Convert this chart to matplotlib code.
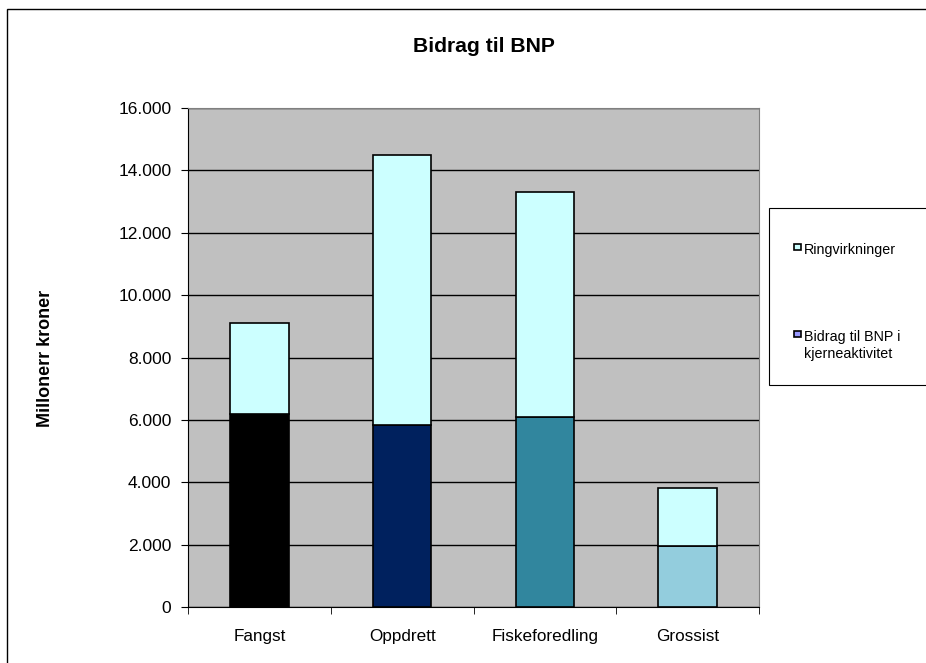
#!/usr/bin/python

"""Stacked bar chart: Bidrag til BNP per sektor."""

import matplotlib
matplotlib.use('Agg')
import matplotlib.pyplot as plt
from matplotlib.patches import Rectangle
from matplotlib.ticker import FuncFormatter, FixedLocator

plt.rcParams['font.family'] = ['Liberation Sans', 'DejaVu Sans']

# data (millioner kroner)
categories = ['Fangst', 'Oppdrett', 'Fiskeforedling', 'Grossist']
kjerne = [6200, 5850, 6100, 1950]
ringvirkninger = [2900, 8650, 7200, 1850]
kjerne_colors = ['#000000', '#00215E', '#31869E', '#93CDDD']
ring_color = '#CCFFFF'
legend_labels = ['Ringvirkninger', 'Bidrag til BNP i\nkjerneaktivitet']
legend_colors = [ring_color, '#9999FF']


def thousands(v, pos):
    return f"{int(v):,}".replace(',', '.')


fig = plt.figure(figsize=(9.26, 6.63), dpi=100)
fig.patch.set_facecolor('white')

# outer chart frame (only top and left edges are inside the picture)
fig.patches.append(Rectangle((7 / 926, -0.1), 1.2, 1.1 - 9 / 663,
                             transform=fig.transFigure, fill=False,
                             edgecolor='black', linewidth=1.0))

ax = fig.add_axes([188 / 926, 56 / 663, 571 / 926, 499 / 663])
ax.set_facecolor('#C0C0C0')

x = list(range(len(categories)))
width = 0.41
ax.bar(x, kjerne, width, color=kjerne_colors, edgecolor='black',
       linewidth=1.2, zorder=3)
ax.bar(x, ringvirkninger, width, bottom=kjerne, color=ring_color,
       edgecolor='black', linewidth=1.2, zorder=3)

ax.set_xlim(-0.5, len(categories) - 0.5)
ax.set_ylim(0, 16000)
ax.set_yticks(range(0, 16001, 2000))
ax.yaxis.set_major_formatter(FuncFormatter(thousands))
ax.yaxis.grid(True, color='black', linewidth=1.0, zorder=1)
ax.set_axisbelow(True)

# category labels centered, tick marks between categories
ax.set_xticks(x)
ax.set_xticklabels(categories, fontsize=12.3)
ax.tick_params(axis='x', length=0, pad=16)
ax.xaxis.set_minor_locator(FixedLocator([i - 0.5 for i in range(len(categories) + 1)]))
ax.tick_params(axis='x', which='minor', length=5, color='black')
ax.tick_params(axis='y', labelsize=12.5, length=5, color='black', pad=7)

for side in ['top', 'right']:
    ax.spines[side].set_color('#808080')
ax.spines['left'].set_color('black')
ax.spines['bottom'].set_color('black')

fig.text(484 / 926, 1 - 47 / 663, 'Bidrag til BNP', ha='center', va='center',
         fontsize=15.2, fontweight='bold')
fig.text(45 / 926, 1 - 358 / 663, 'Millonerr kroner', ha='center', va='center',
         rotation=90, fontsize=13, fontweight='bold')

# legend box, drawn by hand so the marker sits on the first text line
fig.patches.append(Rectangle((769 / 926, 1 - 385 / 663), 200 / 926, 177 / 663,
                             transform=fig.transFigure, facecolor='white',
                             edgecolor='black', linewidth=0.8))
legend_y = [247, 334]
for label, color, yy in zip(legend_labels, legend_colors, legend_y):
    fig.patches.append(Rectangle((794 / 926, 1 - (yy + 3) / 663), 7 / 926, 6 / 663,
                                 transform=fig.transFigure, facecolor=color,
                                 edgecolor='black', linewidth=1.2))
    fig.text(804 / 926, 1 - (yy - 4) / 663, label, ha='left', va='top',
             fontsize=10.3, linespacing=1.25)

fig.savefig('out.png', dpi=100)
